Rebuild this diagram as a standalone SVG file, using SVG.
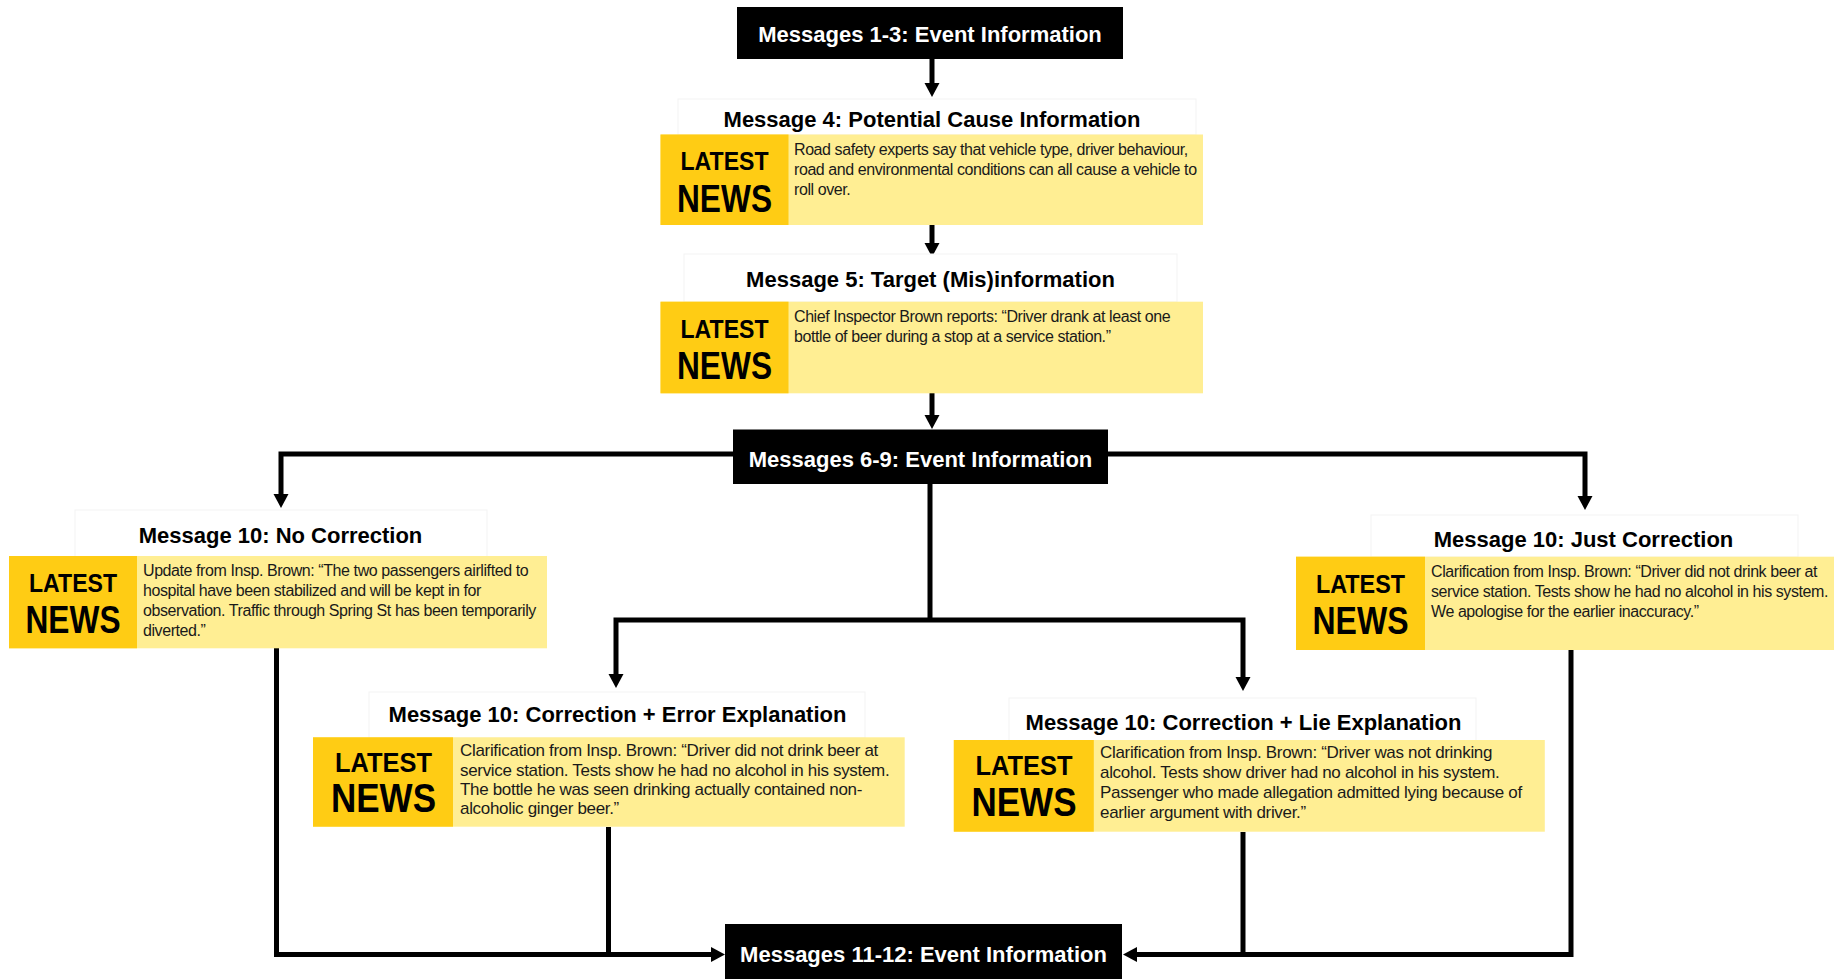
<svg xmlns="http://www.w3.org/2000/svg" width="1834" height="979" viewBox="0 0 1834 979">
  <defs>
    <marker id="arrow" markerUnits="userSpaceOnUse" markerWidth="15" markerHeight="16" refX="0" refY="8" orient="auto">
      <path d="M0,0.5 L14,8 L0,15.5 z" fill="#000"/>
    </marker>
    <style>
      .bg { fill: #ffffff; }
      .event { fill: #000000; }
      .event-text { font-family: "Liberation Sans", Arial, sans-serif; font-weight: bold; font-size: 22px; fill: #ffffff; text-anchor: middle; }
      .frame { fill: #ffffff; stroke: #f3f3f3; stroke-width: 1; }
      .title { font-family: "Liberation Sans", Arial, sans-serif; font-weight: bold; font-size: 22px; fill: #000000; text-anchor: middle; }
      .panel { fill: #FFEE93; }
      .badge { fill: #FFCC14; }
      .badge-text { font-family: "Liberation Sans", Arial, sans-serif; font-weight: bold; fill: #000000; text-anchor: middle; }
      .body { font-family: "Liberation Sans", Arial, sans-serif; font-size: 16px; letter-spacing: -0.42px; fill: #1a1a1a; }
      .body-lg { font-family: "Liberation Sans", Arial, sans-serif; font-size: 17px; letter-spacing: -0.32px; fill: #1a1a1a; }
      .link { fill: none; stroke: #000000; stroke-width: 5; stroke-linejoin: miter; }
    </style>
  </defs>

  <rect class="bg" x="0" y="0" width="1834" height="979"/>

  <!-- connectors -->
  <g id="connectors">
    <path class="link" d="M932,58 V83" marker-end="url(#arrow)"/>
    <path class="link" d="M932,225 V243" marker-end="url(#arrow)"/>
    <path class="link" d="M932,393 V415" marker-end="url(#arrow)"/>
    <path class="link" d="M733,454 H281 V494" marker-end="url(#arrow)"/>
    <path class="link" d="M1108,454 H1585 V496" marker-end="url(#arrow)"/>
    <path class="link" d="M930,484 V620"/>
    <path class="link" d="M930,620 H616 V674" marker-end="url(#arrow)"/>
    <path class="link" d="M930,620 H1243 V677" marker-end="url(#arrow)"/>
    <path class="link" d="M276.5,648 V954.5 H711" marker-end="url(#arrow)"/>
    <path class="link" d="M608.5,827 V954.5"/>
    <path class="link" d="M1243,832 V954.5"/>
    <path class="link" d="M1571,650 V954.5 H1137" marker-end="url(#arrow)"/>
  </g>

  <!-- Messages 1-3 -->
  <g id="msg-1-3">
    <rect class="event" x="737" y="7" width="386" height="52"/>
    <text class="event-text" x="930" y="41.5">Messages 1-3: Event Information</text>
  </g>

  <!-- Message 4 -->
  <g id="msg-4">
    <rect class="frame" x="678" y="99" width="518" height="36"/>
    <text class="title" x="932" y="126.5">Message 4: Potential Cause Information</text>
    <rect class="panel" x="660.5" y="134.5" width="542.5" height="90.5"/>
    <rect class="badge" x="660.5" y="134.5" width="128" height="90.5"/>
    <text class="badge-text" x="724.5" y="170" font-size="25" textLength="88" lengthAdjust="spacingAndGlyphs">LATEST</text>
    <text class="badge-text" x="724.5" y="211.5" font-size="38" textLength="95" lengthAdjust="spacingAndGlyphs">NEWS</text>
    <text class="body" x="794" y="155">Road safety experts say that vehicle type, driver behaviour,</text>
    <text class="body" x="794" y="175">road and environmental conditions can all cause a vehicle to</text>
    <text class="body" x="794" y="195">roll over.</text>
  </g>

  <!-- Message 5 -->
  <g id="msg-5">
    <rect class="frame" x="684" y="254" width="493" height="48"/>
    <text class="title" x="930.5" y="287">Message 5: Target (Mis)information</text>
    <rect class="panel" x="660.5" y="301.7" width="542.5" height="91.6"/>
    <rect class="badge" x="660.5" y="301.7" width="128" height="91.6"/>
    <text class="badge-text" x="724.5" y="337.5" font-size="25" textLength="88" lengthAdjust="spacingAndGlyphs">LATEST</text>
    <text class="badge-text" x="724.5" y="379" font-size="38" textLength="95" lengthAdjust="spacingAndGlyphs">NEWS</text>
    <text class="body" x="794" y="321.7">Chief Inspector Brown reports: “Driver drank at least one</text>
    <text class="body" x="794" y="341.7">bottle of beer during a stop at a service station.”</text>
  </g>

  <!-- Messages 6-9 -->
  <g id="msg-6-9">
    <rect class="event" x="733" y="429.5" width="375" height="54.5"/>
    <text class="event-text" x="920.5" y="466.5">Messages 6-9: Event Information</text>
  </g>

  <!-- Message 10: No Correction -->
  <g id="msg-10-none">
    <rect class="frame" x="75" y="510" width="412" height="47"/>
    <text class="title" x="280.5" y="543">Message 10: No Correction</text>
    <rect class="panel" x="9" y="556" width="538" height="92.3"/>
    <rect class="badge" x="9" y="556" width="128" height="92.3"/>
    <text class="badge-text" x="73" y="591.5" font-size="25" textLength="88" lengthAdjust="spacingAndGlyphs">LATEST</text>
    <text class="badge-text" x="73" y="633" font-size="38" textLength="95" lengthAdjust="spacingAndGlyphs">NEWS</text>
    <text class="body" x="143" y="576">Update from Insp. Brown: “The two passengers airlifted to</text>
    <text class="body" x="143" y="596">hospital have been stabilized and will be kept in for</text>
    <text class="body" x="143" y="616">observation. Traffic through Spring St has been temporarily</text>
    <text class="body" x="143" y="636">diverted.”</text>
  </g>

  <!-- Message 10: Just Correction -->
  <g id="msg-10-just">
    <rect class="frame" x="1371" y="515" width="427" height="42"/>
    <text class="title" x="1583.5" y="547">Message 10: Just Correction</text>
    <rect class="panel" x="1296" y="556.7" width="538" height="93.3"/>
    <rect class="badge" x="1296" y="556.7" width="129" height="93.3"/>
    <text class="badge-text" x="1360.5" y="592.5" font-size="25" textLength="89" lengthAdjust="spacingAndGlyphs">LATEST</text>
    <text class="badge-text" x="1360.5" y="634" font-size="38" textLength="96" lengthAdjust="spacingAndGlyphs">NEWS</text>
    <text class="body" x="1431" y="576.7">Clarification from Insp. Brown: “Driver did not drink beer at</text>
    <text class="body" x="1431" y="596.7">service station. Tests show he had no alcohol in his system.</text>
    <text class="body" x="1431" y="616.7">We apologise for the earlier inaccuracy.”</text>
  </g>

  <!-- Message 10: Correction + Error Explanation -->
  <g id="msg-10-error">
    <rect class="frame" x="369" y="692" width="496" height="46"/>
    <text class="title" x="617.5" y="722">Message 10: Correction + Error Explanation</text>
    <rect class="panel" x="313" y="737.3" width="591.7" height="89.4"/>
    <rect class="badge" x="313" y="737.3" width="140" height="89.4"/>
    <text class="badge-text" x="383.5" y="771.7" font-size="27" textLength="97" lengthAdjust="spacingAndGlyphs">LATEST</text>
    <text class="badge-text" x="383.5" y="812" font-size="41" textLength="105" lengthAdjust="spacingAndGlyphs">NEWS</text>
    <text class="body-lg" x="460" y="756">Clarification from Insp. Brown: “Driver did not drink beer at</text>
    <text class="body-lg" x="460" y="775.5">service station. Tests show he had no alcohol in his system.</text>
    <text class="body-lg" x="460" y="795">The bottle he was seen drinking actually contained non-</text>
    <text class="body-lg" x="460" y="814">alcoholic ginger beer.”</text>
  </g>

  <!-- Message 10: Correction + Lie Explanation -->
  <g id="msg-10-lie">
    <rect class="frame" x="1009" y="698" width="467" height="43"/>
    <text class="title" x="1243.5" y="730">Message 10: Correction + Lie Explanation</text>
    <rect class="panel" x="953.8" y="740" width="591" height="91.7"/>
    <rect class="badge" x="953.8" y="740" width="140" height="91.7"/>
    <text class="badge-text" x="1024" y="775" font-size="27" textLength="97" lengthAdjust="spacingAndGlyphs">LATEST</text>
    <text class="badge-text" x="1024" y="815.5" font-size="41" textLength="105" lengthAdjust="spacingAndGlyphs">NEWS</text>
    <text class="body-lg" x="1100" y="758.3">Clarification from Insp. Brown: “Driver was not drinking</text>
    <text class="body-lg" x="1100" y="778.3">alcohol. Tests show driver had no alcohol in his system.</text>
    <text class="body-lg" x="1100" y="798.3">Passenger who made allegation admitted lying because of</text>
    <text class="body-lg" x="1100" y="818.3">earlier argument with driver.”</text>
  </g>

  <!-- Messages 11-12 -->
  <g id="msg-11-12">
    <rect class="event" x="725" y="924" width="397" height="55"/>
    <text class="event-text" x="923.5" y="961.5">Messages 11-12: Event Information</text>
  </g>
</svg>
